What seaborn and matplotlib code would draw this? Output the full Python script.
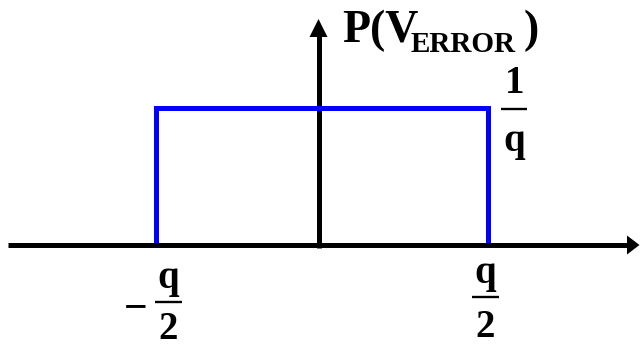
import numpy as np
import pandas as pd
import seaborn as sns
import matplotlib
matplotlib.use("Agg")
import matplotlib.pyplot as plt
import matplotlib.transforms as mtransforms

# Uniform quantization-error density: P(V_ERROR) = 1/q on [-q/2, q/2]
q = 1.0
error_edges = [-q / 2, -q / 2, q / 2, q / 2]
density = [0.0, 1.0 / q, 1.0 / q, 0.0]
title_main = "P(V"
title_sub = "ERROR"
title_close = ")"
level_num, level_den = "1", "q"
left_num, left_den = "q", "2"
right_num, right_den = "q", "2"

sns.set_theme(style="white")
plt.rcParams["font.family"] = ["Liberation Serif", "DejaVu Serif"]
plt.rcParams["font.weight"] = "bold"

W, H = 640, 348
fig = plt.figure(figsize=(W / 100, H / 100), dpi=100)
ax = fig.add_axes([0, 0, 1, 1])
ax.set_axis_off()
ax.set_xlim(-0.9728, 0.9607)
ax.set_ylim(-0.749, 1.782)

# pixel coordinates measured from the top-left corner
px = mtransforms.Affine2D().scale(1 / W, -1 / H).translate(0, 1) + fig.transFigure

df = pd.DataFrame({"v": error_edges, "p": density})
sns.lineplot(data=df, x="v", y="p", sort=False, estimator=None, ax=ax,
             color="#0000ff", lw=3.6, solid_joinstyle="miter",
             solid_capstyle="butt", zorder=3)
ax.set_xlabel("")
ax.set_ylabel("")

# horizontal axis with arrowhead
ax.plot([8, 629], [245, 245], color="black", lw=3.6, solid_capstyle="butt",
        transform=px, zorder=4)
ax.fill([627, 639.5, 627], [235.5, 245, 254.5], color="black", lw=0,
        transform=px, zorder=4)
# vertical axis with arrowhead
ax.plot([318.5, 318.5], [247.5, 35], color="black", lw=3.6,
        solid_capstyle="butt", transform=px, zorder=2)
ax.fill([309.5, 318.5, 327.5], [37, 19, 37], color="black", lw=0,
        transform=px, zorder=2)

txt = dict(transform=px, color="black", fontweight="bold")

# axis title
ax.text(342, 42, title_main, fontsize=33, ha="left", va="baseline", **txt)
ax.text(411, 52, title_sub, fontsize=21, ha="left", va="baseline", **txt)
ax.text(524, 42, title_close, fontsize=33, ha="left", va="baseline", **txt)


def fraction(xc, num, den, y_num, y_bar, y_den, x0, x1, size=28):
    ax.text(xc, y_num, num, fontsize=size, ha="center", va="baseline", **txt)
    ax.plot([x0, x1], [y_bar, y_bar], color="black", lw=1.7,
            solid_capstyle="butt", transform=px)
    ax.text(xc, y_den, den, fontsize=size, ha="center", va="baseline", **txt)


fraction(514.5, level_num, level_den, 93, 109, 151, 501, 527)
fraction(168.5, left_num, left_den, 288, 302, 339, 155, 182)
fraction(485.5, right_num, right_den, 283, 297, 337, 472, 499)
ax.text(136, 319, "\u2212", fontsize=30, ha="center", va="baseline", **txt)

fig.savefig("out.png", dpi=100)
